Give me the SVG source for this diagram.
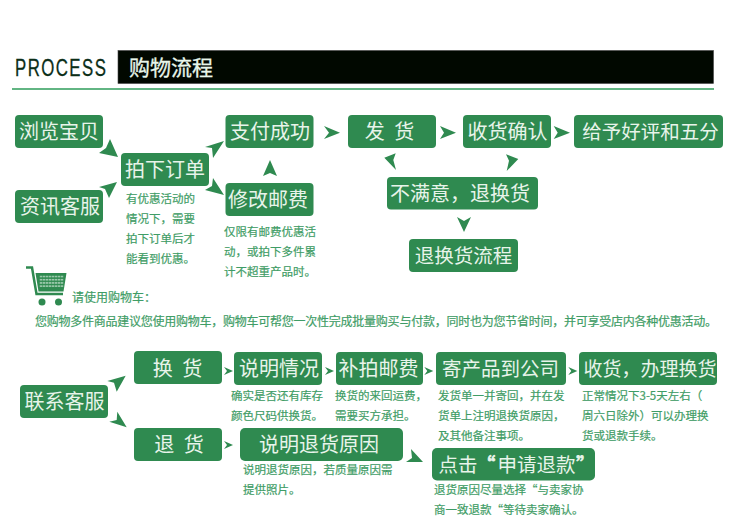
<svg xmlns="http://www.w3.org/2000/svg" width="750" height="529" viewBox="0 0 750 529">
<defs>
<style>
text{font-family:"Noto Sans CJK SC","Noto Sans",sans-serif}
.box{fill:#2f8a50}
.lb{font-size:20px;fill:#e8f4ea;text-anchor:middle;word-spacing:5px}
.cap{font-size:11.500px;fill:#3f9d66;stroke:#3f9d66;stroke-width:0.200}
.ar{fill:#2f8a50}
</style>
<pattern id="cells" x="39.500" y="275" width="3" height="3.200" patternUnits="userSpaceOnUse"><rect width="3" height="3.200" fill="#2f8a50"/><rect x="0.700" y="0.700" width="1.600" height="1.600" fill="#dcefe2"/></pattern>
</defs>
<rect width="750" height="529" fill="#fff"/>
<g id="header">
<rect x="118" y="50.500" width="595.500" height="33" fill="#010800" stroke="#444" stroke-width="0.600"/>
<text transform="translate(15,75.500) scale(.73,1)" font-size="23" letter-spacing="2" style="font-family:'Liberation Sans',sans-serif" fill="#0b2e18" stroke="#0b2e18" stroke-width="0.300">PROCESS</text>
<text x="129" y="75" font-size="21" fill="#e8f6ea" stroke="#e8f6ea" stroke-width="0.300">购物流程</text>
<rect x="12" y="88" width="702" height="2" fill="#62b583"/>
</g>
<g id="connectors">
<polygon class="ar" points="110,139 118,157 99,153 106,148"/>
<polygon class="ar" points="117,182 99,187 105,189 109,198"/>
<polygon class="ar" points="224,141 205,147 212,148 213,158"/>
<polygon class="ar" points="224,195 213,178 212,186 205,190"/>
<polygon class="ar" points="270,160 263,176 270,173 277,176"/>
<polygon class="ar" points="324,126 329,132.700 324,139 340,132.700"/>
<polygon class="ar" points="440,126 444,132.700 440,139 456,132.700"/>
<polygon class="ar" points="553.700,126 557.700,132.700 553.700,139 570,132.700"/>
<polygon class="ar" points="395.700,153.300 384.300,157.700 396,170 393.300,160"/>
<polygon class="ar" points="506,154.300 518.300,159 506.700,171 509,160.700"/>
<polygon class="ar" points="457,217 464,232 471,217 464,221"/>
<polygon class="ar" points="125.700,375.700 107.300,381 114,382.700 116.700,391.700"/>
<polygon class="ar" points="117.300,411.700 126.700,427.300 109.300,421.700 116.700,420"/>
<polygon class="ar" points="224,367 227,371 224,375 233,371"/>
<polygon class="ar" points="325,367 328,371 325,375 334,371"/>
<polygon class="ar" points="424.300,367 427.300,371 424.300,375 433.300,371"/>
<polygon class="ar" points="568.300,367 571.300,371 568.300,375 577.300,371"/>
<polygon class="ar" points="224,441 227,445 224,449 233,445"/>
<polygon class="ar" points="411,449 423,462 406,462 412,458"/>
</g>
<g id="n1"><rect class="box" x="15" y="115" width="88" height="33" rx="4"/><text class="lb" x="59" y="139">浏览宝贝</text></g>
<g id="n2"><rect class="box" x="15" y="190" width="88" height="33" rx="4"/><text class="lb" x="60" y="214">资讯客服</text></g>
<g id="n3"><rect class="box" x="121" y="153" width="88" height="33" rx="4"/><text class="lb" x="165" y="177">拍下订单</text><text class="cap" x="126" y="203">有优惠活动的</text><text class="cap" x="126" y="223">情况下，需要</text><text class="cap" x="126" y="243">拍下订单后才</text><text class="cap" x="126" y="263">能看到优惠。</text></g>
<g id="n4"><rect class="box" x="225.500" y="115" width="88" height="33" rx="4"/><text class="lb" x="270" y="139">支付成功</text></g>
<g id="n5"><rect class="box" x="225.500" y="183" width="88" height="33" rx="4"/><text class="lb" x="268" y="207">修改邮费</text><text class="cap" x="224" y="236">仅限有邮费优惠活</text><text class="cap" x="224" y="256">动，或拍下多件累</text><text class="cap" x="224" y="276">计不超重产品时。</text></g>
<g id="n6"><rect class="box" x="348" y="115" width="88" height="33" rx="4"/><text class="lb" x="389.500" y="139">发 货</text></g>
<g id="n7"><rect class="box" x="463" y="115" width="88" height="33" rx="4"/><text class="lb" x="507.500" y="139">收货确认</text></g>
<g id="n8"><rect class="box" x="574" y="115" width="149" height="33" rx="4"/><text class="lb" x="650.500" y="139" style="font-size:19.500px">给予好评和五分</text></g>
<g id="n9"><rect class="box" x="387" y="177" width="151" height="32.500" rx="4"/><text class="lb" x="460" y="201">不满意，退换货</text></g>
<g id="n10"><rect class="box" x="409" y="239" width="109" height="33" rx="4"/><text class="lb" x="463.500" y="263" style="font-size:19.500px">退换货流程</text></g>
<g id="cart">
<path d="M26,267.500h6l4.500,26.500h26.500" fill="none" stroke="#2f8a50" stroke-width="2.500"/>
<path d="M35.500,273h31l-3,18.500h-25z" fill="#2f8a50"/>
<rect x="39.500" y="275" width="24" height="13" fill="url(#cells)"/>
<circle cx="42" cy="302" r="3.500" fill="#2f8a50"/><circle cx="58.500" cy="302" r="3.500" fill="#2f8a50"/>
<text class="cap" x="72" y="302" style="font-size:12px">请使用购物车：</text>
</g>
<text class="cap" x="35" y="326" style="font-size:12px" textLength="682">您购物多件商品建议您使用购物车，购物车可帮您一次性完成批量购买与付款，同时也为您节省时间，并可享受店内各种优惠活动。</text>
<g id="m1"><rect class="box" x="20" y="385" width="88" height="33" rx="4"/><text class="lb" x="64.500" y="409">联系客服</text></g>
<g id="m2"><rect class="box" x="134" y="351" width="88" height="33" rx="4"/><text class="lb" x="177.500" y="376">换 货</text></g>
<g id="m3"><rect class="box" x="234" y="352" width="88" height="33" rx="4"/><text class="lb" x="279" y="376">说明情况</text><text class="cap" x="231" y="400">确实是否还有库存</text><text class="cap" x="231" y="420">颜色尺码供换货。</text></g>
<g id="m4"><rect class="box" x="336" y="352" width="87" height="33" rx="4"/><text class="lb" x="378.500" y="376">补拍邮费</text><text class="cap" x="335" y="400">换货的来回运费，</text><text class="cap" x="335" y="420">需要买方承担。</text></g>
<g id="m5"><rect class="box" x="436" y="352" width="130" height="33" rx="4"/><text class="lb" x="500.500" y="376" style="font-size:19.500px">寄产品到公司</text><text class="cap" x="438" y="400">发货单一并寄回，并在发</text><text class="cap" x="438" y="420">货单上注明退换货原因，</text><text class="cap" x="438" y="440">及其他备注事项。</text></g>
<g id="m6"><rect class="box" x="579" y="352" width="138" height="33" rx="4"/><text class="lb" x="650" y="376" style="font-size:19px">收货，办理换货</text><text class="cap" x="582" y="400">正常情况下3-5天左右（</text><text class="cap" x="582" y="420">周六日除外）可以办理换</text><text class="cap" x="582" y="440">货或退款手续。</text></g>
<g id="m7"><rect class="box" x="134" y="428" width="88" height="33" rx="4"/><text class="lb" x="179" y="452">退 货</text></g>
<g id="m8"><rect class="box" x="240" y="428" width="163" height="33" rx="5"/><text class="lb" x="319" y="452">说明退货原因</text><text class="cap" x="243" y="474">说明退货原因，若质量原因需</text><text class="cap" x="243" y="494">提供照片。</text></g>
<g id="m9"><rect class="box" x="432" y="448" width="163" height="32.500" rx="5"/><text class="lb" style="text-anchor:start;font-size:19.500px" y="472"><tspan x="438.500">点击</tspan><tspan x="476" stroke="#e8f4ea" stroke-width="0.800">“</tspan><tspan x="497.500">申请退款</tspan><tspan x="576" stroke="#e8f4ea" stroke-width="0.800">”</tspan></text><text class="cap" x="434" y="494">退货原因尽量选择“与卖家协</text><text class="cap" x="434" y="514">商一致退款“等待卖家确认。</text></g>
</svg>
